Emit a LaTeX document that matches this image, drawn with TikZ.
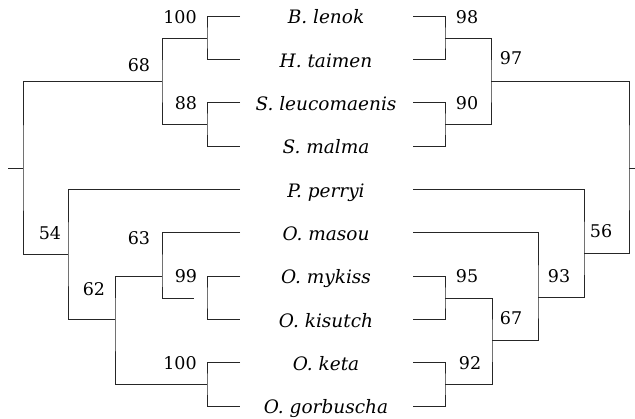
\documentclass[tikz,border=0pt]{standalone}
\usepackage{fontspec}
\setmainfont{DejaVu Serif}
\tikzset{
  br/.style={line width=0.6pt, black!85},
  sp/.style={anchor=base, font=\fontsize{18.5}{20}\selectfont\itshape},
  bs/.style={anchor=base, font=\fontsize{17.5}{20}\selectfont}
}
\begin{document}
\begin{tikzpicture}[x=1pt,y=-1pt]
      \useasboundingbox (0,0) rectangle (635,419);
      \foreach \nm/\txt [count=\i] in {lenok/B. lenok, taimen/H. taimen,
          leuco/S. leucomaenis, malma/S. malma, perryi/P. perryi,
          masou/O. masou, mykiss/O. mykiss, kisutch/O. kisutch,
          keta/O. keta, gorb/O. gorbuscha}
      {
        \pgfmathsetmacro{\yy}{16+43.33*(\i-1)}
        \node[sp] (\nm) at (326,\yy+8) {\txt};
        \coordinate (\nm-l) at (240,\yy);
        \coordinate (\nm-r) at (413,\yy);
      }
      \coordinate (l100a) at (207,38);
      \coordinate (l88) at (207,124);
      \coordinate (l68) at (162,81);
      \coordinate (lroot) at (23,168);
      \coordinate (lstub) at (8,168);
      \coordinate (lperry) at (68,254);
      \coordinate (l62) at (115,319);
      \coordinate (l63) at (162,276);
      \coordinate (l99) at (207,298);
      \coordinate (l99gap) at (194,298);
      \coordinate (l100b) at (207,384);
      \coordinate (r98) at (445,38);
      \coordinate (r90) at (445,124);
      \coordinate (r97) at (491,81);
      \coordinate (rroot) at (629,168);
      \coordinate (rstub) at (635,168);
      \coordinate (r56) at (584,253);
      \coordinate (r93) at (538,297);
      \coordinate (r67) at (492,340);
      \coordinate (r95) at (445,298);
      \coordinate (r92) at (445,384);
      \begin{scope}[br]
        \draw (lenok-l) -| (l100a) |- (taimen-l);
        \draw (leuco-l) -| (l88) |- (malma-l);
        \draw (l100a) -| (l68) |- (l88);
        \draw (l68) -| (lroot) |- (lperry);
        \draw (lroot) -- (lstub);
        \draw (perryi-l) -| (lperry) |- (l62);
        \draw (l63) -| (l62) |- (l100b);
        \draw (masou-l) -| (l63) |- (l99gap);
        \draw (mykiss-l) -| (l99) |- (kisutch-l);
        \draw (keta-l) -| (l100b) |- (gorb-l);
        \draw (lenok-r) -| (r98) |- (taimen-r);
        \draw (leuco-r) -| (r90) |- (malma-r);
        \draw (r98) -| (r97) |- (r90);
        \draw (r97) -| (rroot) |- (r56);
        \draw (rroot) -- (rstub);
        \draw (perryi-r) -| (r56) |- (r93);
        \draw (masou-r) -| (r93) |- (r67);
        \draw (r95) -| (r67) |- (r92);
        \draw (mykiss-r) -| (r95) |- (kisutch-r);
        \draw (keta-r) -| (r92) |- (gorb-r);
      \end{scope}
      \node[bs] (b100a) at (180,24) {100};
      \node[bs] (b68) at (139,72) {68};
      \node[bs] (b88) at (186,110) {88};
      \node[bs] (b54) at (50,240) {54};
      \node[bs] (b63) at (139,245) {63};
      \node[bs] (b62) at (94,296) {62};
      \node[bs] (b99) at (186,283) {99};
      \node[bs] (b100b) at (180,370) {100};
      \node[bs] (b98) at (467,24) {98};
      \node[bs] (b97) at (511,65) {97};
      \node[bs] (b90) at (467,110) {90};
      \node[bs] (b95) at (467,283) {95};
      \node[bs] (b67) at (511,325) {67};
      \node[bs] (b92) at (470,370) {92};
      \node[bs] (b93) at (559,283) {93};
      \node[bs] (b56) at (601,238) {56};
    \end{tikzpicture}
\end{document}
